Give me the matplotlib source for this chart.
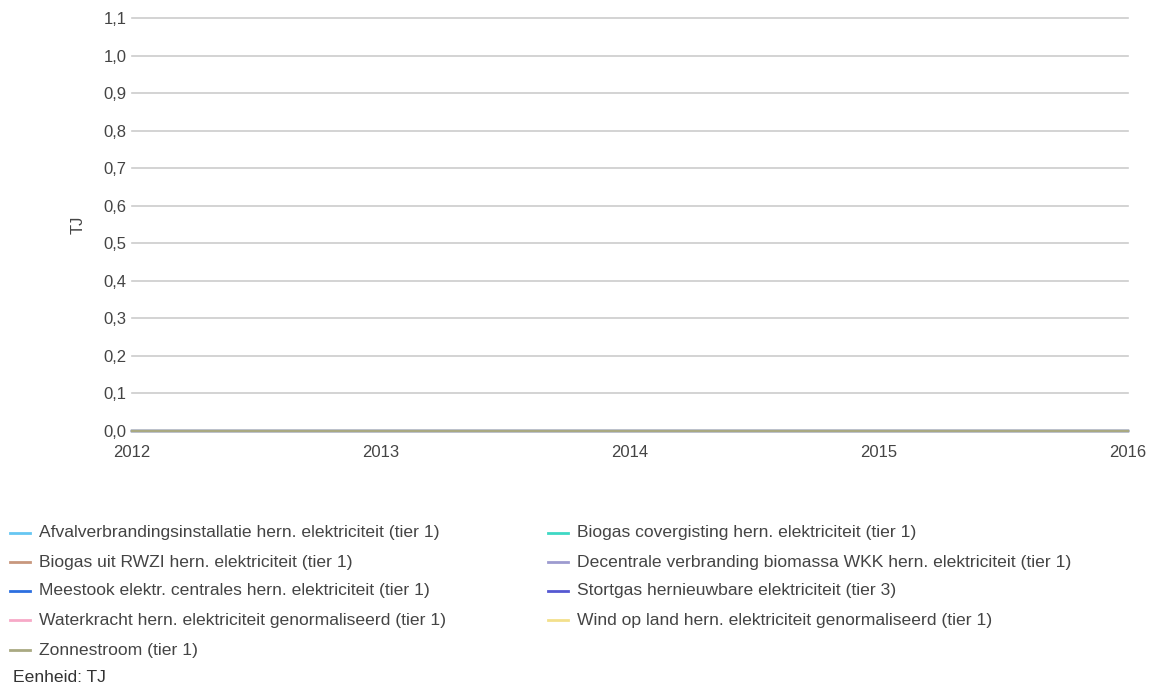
import matplotlib
matplotlib.use('agg')
import matplotlib.pyplot as plt
from matplotlib.lines import Line2D

plt.rcParams['font.family'] = ['Liberation Sans', 'DejaVu Sans']

years = [2012, 2013, 2014, 2015, 2016]
series_names = [
    "Afvalverbrandingsinstallatie hern. elektriciteit (tier 1)",
    "Biogas covergisting hern. elektriciteit (tier 1)",
    "Biogas uit RWZI hern. elektriciteit (tier 1)",
    "Decentrale verbranding biomassa WKK hern. elektriciteit (tier 1)",
    "Meestook elektr. centrales hern. elektriciteit (tier 1)",
    "Stortgas hernieuwbare elektriciteit (tier 3)",
    "Waterkracht hern. elektriciteit genormaliseerd (tier 1)",
    "Wind op land hern. elektriciteit genormaliseerd (tier 1)",
    "Zonnestroom (tier 1)",
]
series_colors = ['#66c6f2', '#3ed8c4', '#c8977d', '#9d9bcf', '#2c6fe0',
                 '#5558d2', '#f7a9c7', '#f3e08c', '#a9a982']
series_values = [
    [0, 0, 0, 0, 0],
    [0, 0, 0, 0, 0],
    [0, 0, 0, 0, 0],
    [0, 0, 0, 0, 0],
    [0, 0, 0, 0, 0],
    [0, 0, 0, 0, 0],
    [0, 0, 0, 0, 0],
    [0, 0, 0, 0, 0],
    [0, 0, 0, 0, 0],
]
y_ticks = [0.0, 0.1, 0.2, 0.3, 0.4, 0.5, 0.6, 0.7, 0.8, 0.9, 1.0, 1.1]

txt = '#444444'
fig = plt.figure(figsize=(11.49, 6.87), dpi=100)
ax = fig.add_axes([132 / 1149, 1 - 431 / 687, 996 / 1149, 413 / 687])

for yt in y_ticks:
    ax.axhline(yt, color='#cccccc', lw=1.2, zorder=1, clip_on=False)
for vals, col in zip(series_values, series_colors):
    ax.plot(years, vals, color=col, lw=1.6, zorder=3, clip_on=False)

ax.set_xlim(years[0], years[-1])
ax.set_ylim(0, 1.1)
ax.set_yticks(y_ticks)
ax.set_yticklabels([("%.1f" % v).replace('.', ',') for v in y_ticks])
ax.set_xticks(years)
ax.set_xticklabels([str(y) for y in years])
ax.tick_params(length=0, labelsize=12, colors=txt, pad=4)
ax.tick_params(axis='x', pad=10)
for s in ax.spines.values():
    s.set_visible(False)
ax.set_ylabel('TJ', fontsize=12, color=txt, labelpad=13)

# legend in two columns, row by row
col_x = [10, 548]
row_y = [533, 562, 591, 620, 650]
for i, (name, col) in enumerate(zip(series_names, series_colors)):
    x0 = col_x[i % 2]
    y0 = row_y[i // 2]
    yf = 1 - y0 / 687
    fig.add_artist(Line2D([x0 / 1149, (x0 + 20) / 1149], [yf, yf],
                          color=col, lw=2, transform=fig.transFigure))
    fig.text((x0 + 29) / 1149, yf, name, fontsize=12.6, color=txt, va='center')

fig.text(13 / 1149, 1 - 678 / 687, 'Eenheid: TJ', fontsize=12.6, color='#333333', va='center')

fig.savefig('out.png', dpi=100, facecolor='white')
